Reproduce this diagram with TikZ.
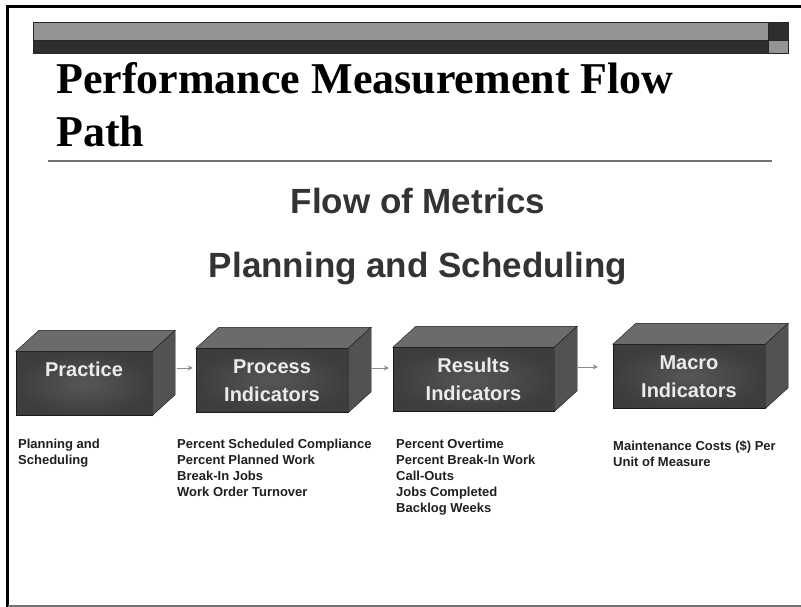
\documentclass[tikz,border=0pt]{standalone}
\usepackage{fontspec}
\setmainfont{Liberation Serif}
\setsansfont{Liberation Sans}
\usetikzlibrary{arrows.meta}

\begin{document}
\begin{tikzpicture}[x=1pt, y=-1pt,
  box/.style={draw=black!90, inner color=black!66, outer color=black!76,
    inner sep=0pt, minimum height=64pt, minimum width=152pt,
    text=white!92!black, align=center,
    font=\sffamily\bfseries\fontsize{20pt}{28pt}\selectfont},
  topface/.style={draw=black!90, fill=black!58},
  sideface/.style={draw=black!90, fill=black!68},
  flowarrow/.style={black!45, line width=1pt, -{Stealth[length=5pt,width=5pt]}},
  metrics/.style={anchor=north west, inner sep=0pt, align=left, text=black!88,
    font=\sffamily\bfseries\fontsize{13pt}{16pt}\selectfont}]
  \useasboundingbox (0,0) rectangle (801,607);
  \fill[white] (0,0) rectangle (801,607);

  % Slide Frame
  \draw[line width=3pt] (7.5,607) -- (7.5,6.5) -- (801,6.5);
  \draw[black!55, line width=2pt] (7.5,606) -- (801,606);

  % Header Bar
  \draw[black!85, fill=black!42] (33,22) rectangle (768,40);
  \draw[black!85, fill=black!82] (33,40) rectangle (768,53);
  \draw[black!85, fill=black!82] (768,22) rectangle (788,40);
  \draw[black!85, fill=black!42] (768,40) rectangle (788,53);

  % Title
  \node[anchor=base west, inner sep=0pt, font=\bfseries\fontsize{44pt}{50pt}\selectfont]
    (title) at (56,94) {Performance Measurement Flow};
  \node[anchor=base west, inner sep=0pt, font=\bfseries\fontsize{44pt}{50pt}\selectfont]
    (titlepath) at (56,147) {Path};
  \draw[black!55, line width=2pt] (48,161) -- (772,161);

  % Subtitles
  \node[anchor=base, inner sep=0pt, text=black!80, font=\sffamily\bfseries\fontsize{35pt}{40pt}\selectfont]
    (flow) at (418,213) {Flow of Metrics};
  \node[anchor=base, inner sep=0pt, text=black!80, font=\sffamily\bfseries\fontsize{35pt}{40pt}\selectfont]
    (planning) at (418,277) {Planning and Scheduling};

  % Boxes (front faces)
  \node[box, minimum width=136pt] (practice) at (84,383.5) {Practice\\\mbox{}};
  \node[box] (process) at (272,380.5) {Process\\Indicators};
  \node[box, minimum width=161pt] (results) at (473.5,379.5) {Results\\Indicators};
  \node[box] (macro) at (689,376.5) {Macro\\Indicators};

  % Top and side faces
  \foreach \b in {practice,process,results,macro}{
    \draw[topface] (\b.north west) -- ([shift={(23,-21)}]\b.north west)
      -- ([shift={(23,-21)}]\b.north east) -- (\b.north east) -- cycle;
    \draw[sideface] (\b.north east) -- ([shift={(23,-21)}]\b.north east)
      -- ([shift={(23,-21)}]\b.south east) -- (\b.south east) -- cycle;
  }

  % Arrows
  \draw[flowarrow] ([xshift=25pt]practice.east |- 0,368) -- ([xshift=-3pt]process.west |- 0,368);
  \draw[flowarrow] ([xshift=24pt]process.east |- 0,368) -- ([xshift=-4pt]results.west |- 0,368);
  \draw[flowarrow] ([xshift=24pt]results.east |- 0,367) -- ([xshift=-15pt]macro.west |- 0,367);

  % Metrics Lists
  \node[metrics] (practicelist) at (18,439) {Planning and\\Scheduling};
  \node[metrics] (processlist) at (177,439) {Percent Scheduled Compliance\\Percent Planned Work\\Break-In Jobs\\Work Order Turnover};
  \node[metrics] (resultslist) at (396,439) {Percent Overtime\\Percent Break-In Work\\Call-Outs\\Jobs Completed\\Backlog Weeks};
  \node[metrics] (macrolist) at (613,441) {Maintenance Costs (\$) Per\\Unit of Measure};

\end{tikzpicture}
\end{document}
